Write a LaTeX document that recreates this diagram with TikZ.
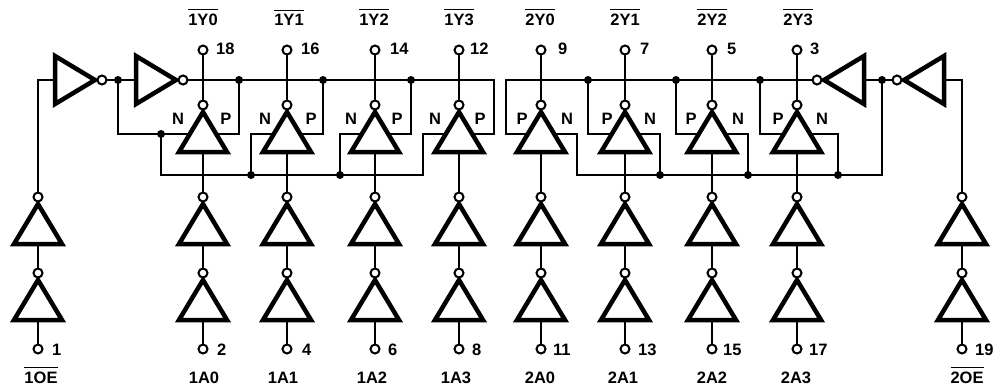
\documentclass[tikz,border=0pt]{standalone}
\usepackage{fontspec}
\setmainfont{Liberation Sans}
\newcommand{\olbar}[1]{\vbox{\hrule height 1pt \kern 3pt \hbox{#1}}}
\tikzset{
  wire/.style={line width=1.8pt,line cap=round,line join=miter},
  tri/.style={line width=4.5pt,line join=miter,fill=white,draw=black},
  bub/.style={circle,draw=black,fill=white,line width=2pt,minimum size=9pt,inner sep=0pt},
  dot/.style={circle,fill=black,minimum size=8pt,inner sep=0pt},
  lab/.style={font=\bfseries\fontsize{16.5}{17}\selectfont,anchor=base,inner sep=0pt},
  pinlab/.style={font=\bfseries\fontsize{16.5}{17}\selectfont,anchor=base west,inner sep=0pt},
  updir/.style={x={(1pt,0pt)},y={(0pt,-1pt)}},
  rightdir/.style={x={(0pt,1pt)},y={(-1pt,0pt)}},
  leftdir/.style={x={(0pt,1pt)},y={(1pt,0pt)}}
}
% name, x, y of bubble, direction style
\newcommand{\buffer}[4]{%
  \begin{scope}[shift={(#2,#3)},#4]
    \draw[tri] (0,7) -- (24,47) -- (-24,47) -- cycle;
    \node[bub] (#1) at (0,0) {};
    \coordinate (#1-b) at (0,47);
    \coordinate (#1-l) at (-13,29);
    \coordinate (#1-r) at (13,29);
  \end{scope}}
\begin{document}
\begin{tikzpicture}[x=1pt,y=-1pt]
\useasboundingbox (0,0) rectangle (996,391);
% buffers: top, middle, bottom rows
\foreach \n/\x in {a/203,b/287,c/375,d/459,e/541,f/625,g/712,h/797}{
  \buffer{\n t}{\x}{105}{updir}
  \buffer{\n m}{\x}{197}{updir}
  \buffer{\n i}{\x}{273}{updir}
  \node[bub] (\n o) at (\x,50) {};
  \node[bub] (\n p) at (\x,349) {};
  \draw[wire] (\n p) -- (\n i-b);
  \draw[wire] (\n i) -- (\n m-b);
  \draw[wire] (\n m) -- (\n t-b);
  \draw[wire] (\n t) -- (\n o);
}
% enable columns
\foreach \n/\x in {L/38,R/962}{
  \buffer{\n m}{\x}{197}{updir}
  \buffer{\n i}{\x}{273}{updir}
  \node[bub] (\n p) at (\x,349) {};
  \draw[wire] (\n p) -- (\n i-b);
  \draw[wire] (\n i) -- (\n m-b);
}
% horizontal inverters
\buffer{invA}{102}{80}{rightdir}
\buffer{invB}{183}{80}{rightdir}
\buffer{invC}{817}{80}{leftdir}
\buffer{invD}{897}{80}{leftdir}
% junctions
\foreach \n/\x/\y in {j1/118/80,j2/239/80,j3/323/80,j4/411/80,
  k1/161/134,k2/251/175,k3/340/175,
  m1/588/80,m2/676/80,m3/760/80,m4/882/80,
  n1/660/175,n2/748/175,n3/838/175}{
  \node[dot] (\n) at (\x,\y) {};
}
\coordinate (c1) at (494,80);
\coordinate (c2) at (494,134);
\coordinate (c3) at (506,80);
\coordinate (c4) at (506,134);
\coordinate (c5) at (161,175);
\coordinate (c6) at (423,175);
\coordinate (c7) at (423,134);
\coordinate (c8) at (577,134);
\coordinate (c9) at (577,175);
\coordinate (c10) at (882,175);
\coordinate (c11) at (118,134);
\coordinate (c12) at (38,80);
\coordinate (c13) at (962,80);
% left enable path
\draw[wire] (Lm) -- (c12) -- (invA-b);
\draw[wire] (invA) -- (j1) -- (invB-b);
\draw[wire] (invB) -- (j2.center) -- (j3.center) -- (j4.center) -- (c1) -- (c2) -- (dt-r);
\draw[wire] (j1.center) -- (c11) -- (k1.center) -- (at-l);
\draw[wire] (at-r) -- (j2.center |- at-r) -- (j2.center);
\draw[wire] (k1.center) -- (c5) -- (k2.center) -- (k3.center) -- (c6) -- (c7) -- (dt-l);
\draw[wire] (k2.center) -- (k2.center |- bt-l) -- (bt-l);
\draw[wire] (bt-r) -- (j3.center |- bt-r) -- (j3.center);
\draw[wire] (k3.center) -- (k3.center |- ct-l) -- (ct-l);
\draw[wire] (ct-r) -- (j4.center |- ct-r) -- (j4.center);
% right enable path
\draw[wire] (Rm) -- (c13) -- (invD-b);
\draw[wire] (invD) -- (m4.center) -- (invC-b);
\draw[wire] (invC) -- (m3.center) -- (m2.center) -- (m1.center) -- (c3) -- (c4) -- (et-l);
\draw[wire] (m4.center) -- (c10) -- (n3.center) -- (n2.center) -- (n1.center) -- (c9) -- (c8) -- (et-r);
\draw[wire] (m1.center) -- (m1.center |- ft-l) -- (ft-l);
\draw[wire] (ft-r) -- (n1.center |- ft-r) -- (n1.center);
\draw[wire] (m2.center) -- (m2.center |- gt-l) -- (gt-l);
\draw[wire] (gt-r) -- (n2.center |- gt-r) -- (n2.center);
\draw[wire] (m3.center) -- (m3.center |- ht-l) -- (ht-l);
\draw[wire] (ht-r) -- (n3.center |- ht-r) -- (n3.center);
% top names
\foreach \t/\x in {1Y0/203,1Y1/289,1Y2/374,1Y3/459,2Y0/540,2Y1/625,2Y2/712,2Y3/798}{
  \node[lab] (name\t) at (\x,25) {\olbar{\t}};
}
% pin numbers
\foreach \t/\x in {18/216,16/301,14/390,12/470,9/558,7/640,5/727,3/810}{
  \node[pinlab] (pin\t) at (\x,54) {\t};
}
\foreach \t/\x in {1/52,2/217,4/302,6/388,8/472,11/553,13/638,15/723,17/809,19/975}{
  \node[pinlab] (pin\t) at (\x,355) {\t};
}
% bottom names
\foreach \t/\x in {1A0/204,1A1/283,1A2/372,1A3/456,2A0/540,2A1/623,2A2/712,2A3/796}{
  \node[lab] (name\t) at (\x,383) {\t};
}
\node[lab] (name1OE) at (41,383) {\olbar{1OE}};
\node[lab] (name2OE) at (967,383) {\olbar{2OE}};
% N and P
\foreach \c/\x in {N/178,P/226,N/265,P/311,N/351,P/397,N/435,P/480,P/522,N/567,P/607,N/650,P/691,N/738,P/778,N/822}{
  \node[lab] (l\c\x) at (\x,124) {\c};
}
\end{tikzpicture}
\end{document}
